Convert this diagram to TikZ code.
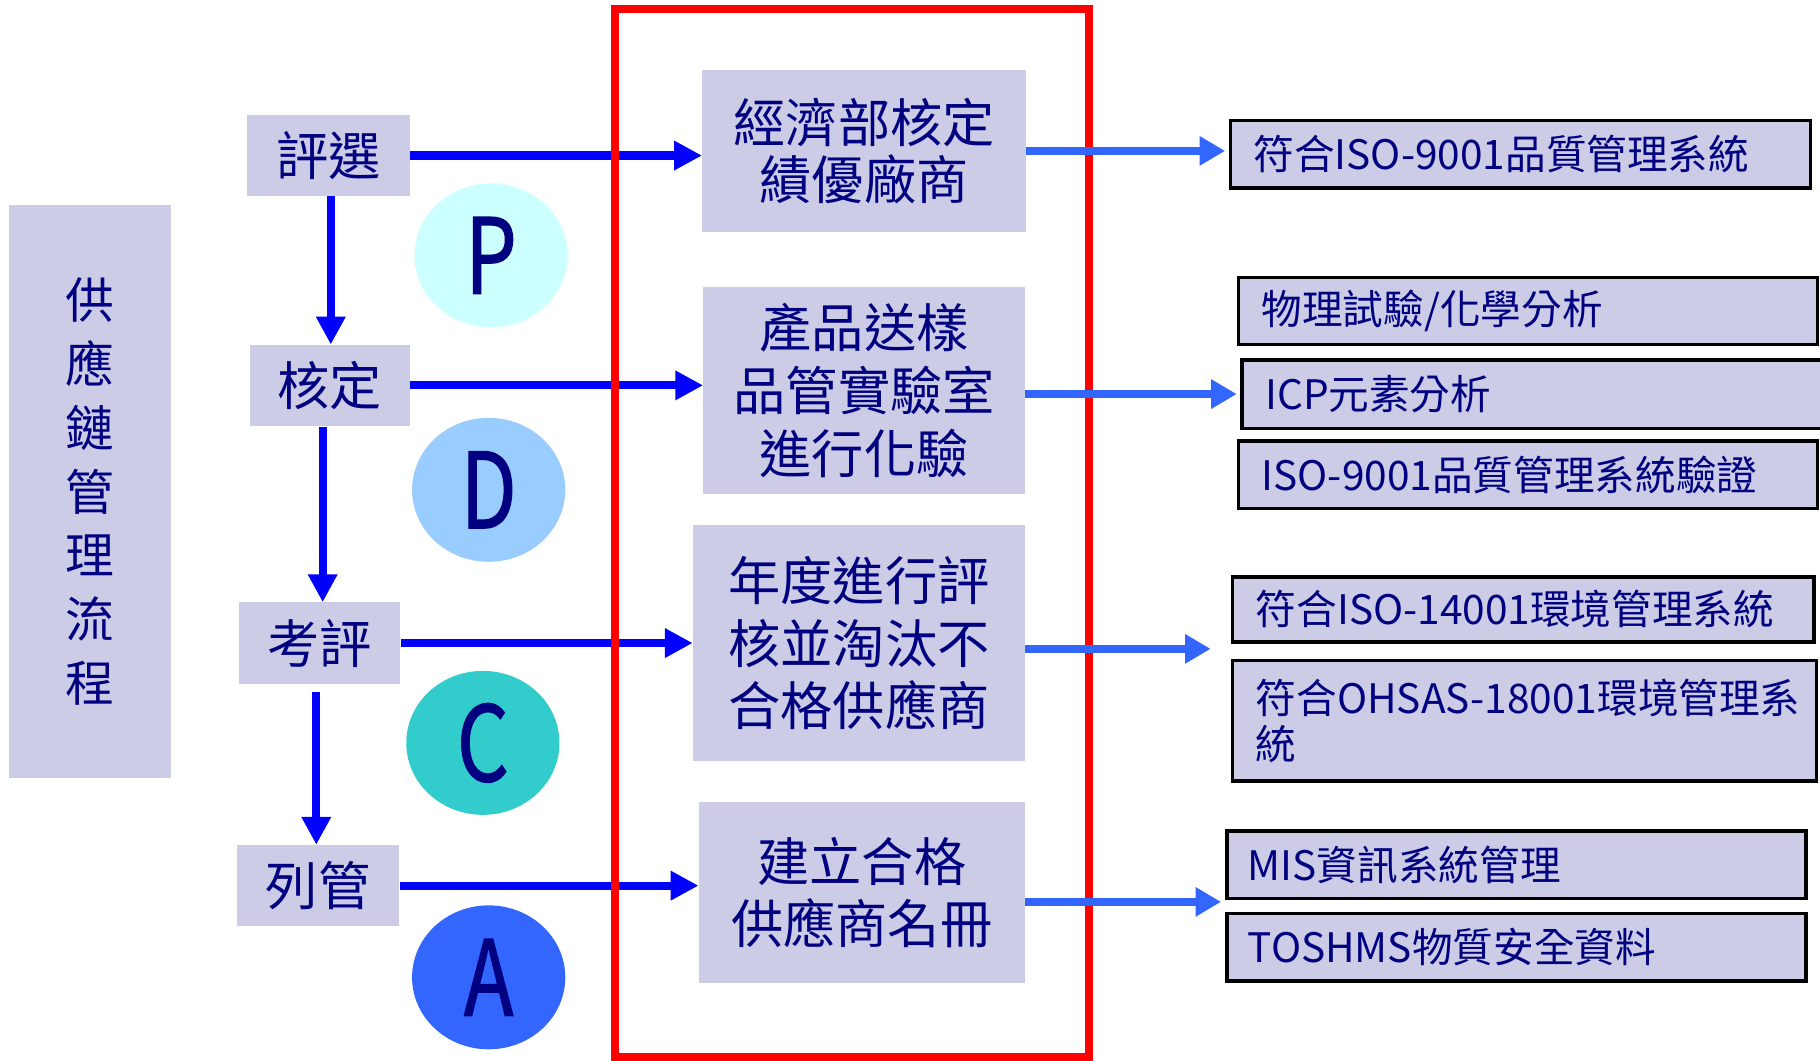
\documentclass[tikz,border=0pt]{standalone}
\usepackage{fontspec}
\setmainfont{Noto Sans CJK TC}
\newfontfamily\letterfont[FakeBold=1.3]{Noto Sans CJK TC}
\usetikzlibrary{arrows.meta,shapes.geometric}
\definecolor{lav}{HTML}{CCCCE6}
\definecolor{navy}{HTML}{000080}
\definecolor{pcol}{HTML}{CCFFFF}
\definecolor{dcol}{HTML}{99CCFF}
\definecolor{ccol}{HTML}{33CCCC}
\definecolor{acol}{HTML}{3366FF}
\definecolor{rarr}{HTML}{3366FF}
\definecolor{larr}{HTML}{0000FF}
\tikzset{
  lbox/.style={fill=lav, inner sep=0pt, text=navy, align=center},
  stepbox/.style={lbox, font=\fontsize{45}{54}\selectfont},
  midbox/.style={lbox, font=\fontsize{45}{54}\selectfont},
  rbox/.style={fill=lav, draw=black, line width=3pt, inner sep=0pt, text=navy, align=left,
     font=\fontsize{35}{40}\selectfont},
  letter/.style={ellipse, inner sep=0pt, minimum width=132pt, minimum height=124pt, text=navy,
     font=\letterfont\fontsize{90}{90}\selectfont},
  larrow/.style={draw=larr, line width=7pt, -{Triangle[length=24pt,width=24pt]}},
  rarrow/.style={draw=rarr, line width=7pt, -{Triangle[length=22pt,width=24pt]}},
}
\begin{document}
\begin{tikzpicture}[x=1pt,y=-1pt]
\useasboundingbox (0,0) rectangle (1568,914);
% left title box
\node[lbox, minimum width=139pt, minimum height=493pt, font=\fontsize{42}{55}\selectfont] (title) at (77.5,423.5) {供\\應\\鏈\\管\\理\\流\\程};
% step boxes
\node[stepbox, minimum width=140pt, minimum height=70pt] (pj) at (283,134) {評選};
\node[stepbox, minimum width=138pt, minimum height=70pt] (hd) at (284,332) {核定};
\node[stepbox, minimum width=139pt, minimum height=70pt] (kp) at (275.5,554) {考評};
\node[stepbox, minimum width=140pt, minimum height=70pt] (lg) at (274,763) {列管};
% PDCA circles
\node[letter, fill=pcol] (P) at (423,220) {\scalebox{0.78}[1]{P}};
\node[letter, fill=dcol] (D) at (421,422) {\scalebox{0.78}[1]{D}};
\node[letter, fill=ccol] (C) at (416,640) {\scalebox{0.78}[1]{C}};
\node[letter, fill=acol] (A) at (421,842) {\scalebox{0.78}[1]{A}};
% middle boxes
\node[midbox, minimum width=279pt, minimum height=140pt] (m1) at (744.5,130) {\raisebox{-4pt}{\shortstack{經濟部核定\\[4pt]績優廠商}}};
\node[midbox, minimum width=277pt, minimum height=179pt] (m2) at (744.5,336.5) {產品送樣\\品管實驗室\\進行化驗};
\node[midbox, minimum width=286pt, minimum height=204pt] (m3) at (740,554) {年度進行評\\核並淘汰不\\合格供應商};
\node[midbox, minimum width=281pt, minimum height=156pt] (m4) at (742.5,769) {建立合格\\供應商名冊};
% right boxes
\node[rbox, minimum width=500pt, minimum height=58pt, text width=460pt] (r1) at (1310,133) {\raisebox{-3pt}{符合ISO-9001品質管理系統}};
\node[rbox, minimum width=499pt, minimum height=58pt, text width=459pt] (r2) at (1316.5,268) {\raisebox{-3pt}{物理試驗/化學分析}};
\node[rbox, minimum width=505pt, minimum height=59pt, text width=465pt] (r3) at (1322.5,339.5) {\raisebox{-3pt}{ICP元素分析}};
\node[rbox, minimum width=499pt, minimum height=58pt, text width=459pt] (r4) at (1316.5,409) {\raisebox{-3pt}{ISO-9001品質管理系統驗證}};
\node[rbox, minimum width=501pt, minimum height=56pt, text width=461pt] (r5) at (1312.5,525) {符合ISO-14001環境管理系統};
\node[rbox, minimum width=503pt, minimum height=104pt, text width=463pt] (r6) at (1313.5,621) {\mbox{符合OHSAS-18001環境管理系}\\統};
\node[rbox, minimum width=499pt, minimum height=58pt, text width=463pt] (r7) at (1306.5,745) {MIS資訊系統管理};
\node[rbox, minimum width=499pt, minimum height=58pt, text width=463pt] (r8) at (1306.5,816) {\raisebox{-3pt}{TOSHMS物質安全資料}};
% free ends
\coordinate (e3) at (1043,559);
\coordinate (e4) at (1052,777);
% left arrows
\draw[larrow] (pj.east) -- (pj.east -| m1.west);
\draw[larrow] (hd.east) -- (hd.east -| m2.west);
\draw[larrow] (kp.east) -- (kp.east -| m3.west);
\draw[larrow] (lg.east) -- (lg.east -| m4.west);
\draw[larrow] ([xshift=2pt]pj.south) -- ([xshift=2pt]pj.south |- hd.north);
\draw[larrow] ([xshift=-6pt,yshift=-1pt]hd.south) -- ([xshift=-6pt]hd.south |- kp.north);
\draw[larrow] ([xshift=-3pt,yshift=-7pt]kp.south) -- ([xshift=-3pt]kp.south |- lg.north);
% red frame
\draw[red, line width=7pt] (530,8) rectangle (938,911);
% right arrows
\draw[rarrow, shorten >=3pt] (m1.east) -- (m1.east -| r1.west);
\draw[rarrow, shorten >=3pt] (m2.east |- r3.west) -- (r3.west);
\draw[rarrow] (m3.east |- e3) -- (e3);
\draw[rarrow] (m4.east |- e4) -- (e4);
\end{tikzpicture}
\end{document}
